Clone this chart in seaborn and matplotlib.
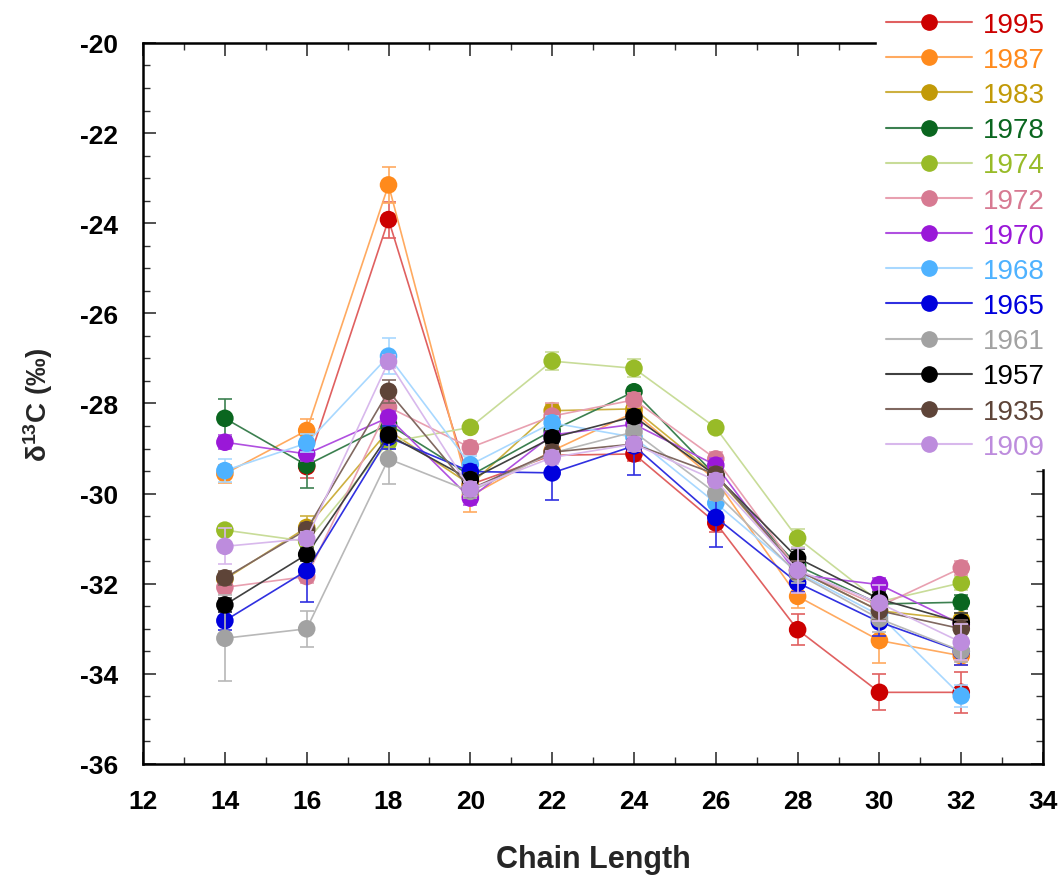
import numpy as np
import pandas as pd
import matplotlib
matplotlib.use("Agg")
import matplotlib.pyplot as plt
from matplotlib.lines import Line2D
from matplotlib.ticker import MultipleLocator
import seaborn as sns

chain_length = [14, 16, 18, 20, 22, 24, 26, 28, 30, 32]
years = ["1995", "1987", "1983", "1978", "1974", "1972", "1970",
         "1968", "1965", "1961", "1957", "1935", "1909"]
nan = np.nan
d1995 = [nan, -29.40, -23.92, -29.80, -29.15, -29.12, -30.65, -33.02, -34.41, -34.41]
d1987 = [-29.56, -28.60, -23.15, -30.05, -29.05, -28.20, -29.70, -32.28, -33.26, -33.60]
d1983 = [-31.90, -30.75, -28.60, -29.80, -28.16, -28.12, -29.60, -31.70, -32.60, -32.80]
d1978 = [-28.33, -29.37, -28.46, -29.60, -28.60, -27.74, -29.60, -31.60, -32.45, -32.41]
d1974 = [-30.81, -31.06, -28.86, -28.53, -27.06, -27.22, -28.54, -30.99, -32.40, -31.98]
d1972 = [-32.08, -31.84, -28.08, -28.98, -28.28, -27.92, -29.23, -31.70, -32.50, -31.65]
d1970 = [-28.86, -29.12, -28.31, -30.10, -28.70, -28.46, -29.37, -31.80, -32.02, -32.90]
d1968 = [-29.49, -28.88, -26.95, -29.36, -28.43, -28.75, -30.21, -31.75, -32.70, -34.49]
d1965 = [-32.82, -31.71, -28.75, -29.51, -29.54, -28.94, -30.53, -31.98, -32.85, -33.50]
d1961 = [-33.21, -33.00, -29.23, -29.95, -29.10, -28.63, -29.99, -31.78, -32.78, -33.49]
d1957 = [-32.47, -31.35, -28.70, -29.69, -28.76, -28.29, -29.60, -31.43, -32.34, -32.86]
d1935 = [-31.87, -30.80, -27.73, -29.90, -29.08, -28.90, -29.57, -31.70, -32.60, -33.00]
d1909 = [-31.17, -31.00, -27.07, -29.90, -29.20, -28.90, -29.71, -31.70, -32.43, -33.30]

e1995 = [0.0, 0.25, 0.40, 0.15, 0.15, 0.15, 0.20, 0.35, 0.40, 0.45]
e1987 = [0.20, 0.25, 0.40, 0.35, 0.15, 0.15, 0.20, 0.25, 0.50, 0.20]
e1983 = [0.15, 0.25, 0.15, 0.15, 0.15, 0.15, 0.15, 0.20, 0.20, 0.15]
e1978 = [0.42, 0.50, 0.15, 0.15, 0.15, 0.10, 0.15, 0.20, 0.20, 0.15]
e1974 = [0.10, 0.15, 0.15, 0.10, 0.20, 0.20, 0.10, 0.20, 0.20, 0.15]
e1972 = [0.15, 0.15, 0.20, 0.15, 0.30, 0.15, 0.15, 0.25, 0.25, 0.15]
e1970 = [0.15, 0.15, 0.15, 0.15, 0.15, 0.15, 0.15, 0.20, 0.15, 0.15]
e1968 = [0.25, 0.20, 0.40, 0.20, 0.15, 0.15, 0.20, 0.20, 0.20, 0.25]
e1965 = [0.20, 0.70, 0.25, 0.15, 0.60, 0.65, 0.65, 0.20, 0.30, 0.30]
e1961 = [0.95, 0.40, 0.55, 0.15, 0.15, 0.15, 0.15, 0.20, 0.30, 0.25]
e1957 = [0.15, 0.15, 0.15, 0.15, 0.15, 0.15, 0.15, 0.20, 0.15, 0.20]
e1935 = [0.15, 0.15, 0.25, 0.15, 0.15, 0.15, 0.15, 0.20, 0.20, 0.20]
e1909 = [0.40, 0.15, 0.15, 0.15, 0.15, 0.15, 0.15, 0.50, 0.40, 0.40]

colors = ["#CC0000", "#FF8A1C", "#C29A08", "#0A661F", "#98BB28", "#D77A92",
          "#9A18D8", "#4EB2FF", "#0000DD", "#A2A2A2", "#000000", "#5E4438", "#BD8CDD"]
line_colors = ["#E06060", "#FFAA60", "#CDB040", "#3C8050", "#C8DC98", "#E8A0B0",
               "#B050E0", "#A8D8FF", "#3030E0", "#B8B8B8", "#404040", "#806860", "#D8B8EC"]

values = [d1995, d1987, d1983, d1978, d1974, d1972, d1970, d1968, d1965, d1961, d1957, d1935, d1909]
errors = [e1995, e1987, e1983, e1978, e1974, e1972, e1970, e1968, e1965, e1961, e1957, e1935, e1909]

rows = []
for y, v, e in zip(years, values, errors):
    for x, val, err in zip(chain_length, v, e):
        rows.append({"year": y, "chain": x, "d13C": val, "err": err})
df = pd.DataFrame(rows)

sns.set_theme(style="ticks")
plt.rcParams["font.family"] = ["Liberation Sans", "DejaVu Sans"]
plt.rcParams["axes.unicode_minus"] = False
plt.rcParams["mathtext.fontset"] = "custom"
plt.rcParams["mathtext.bf"] = "Liberation Sans:bold"
plt.rcParams["mathtext.rm"] = "Liberation Sans"
plt.rcParams["mathtext.default"] = "bf"

fig = plt.figure(figsize=(10.62, 8.79), dpi=100)
ax = fig.add_axes([0.1347, 0.1297, 0.8475, 0.8203])

for i, y in enumerate(years):
    sub = df[(df["year"] == y)].dropna(subset=["d13C"])
    z = 2 + i * 0.1
    sns.lineplot(data=sub, x="chain", y="d13C", ax=ax, color=line_colors[i],
                 lw=1.2, estimator=None, sort=False, legend=False, zorder=z)
    ax.errorbar(sub["chain"], sub["d13C"], yerr=sub["err"], fmt="none",
                ecolor=line_colors[i], elinewidth=1.2, capsize=5, capthick=1.2, zorder=z)
    sns.scatterplot(data=sub, x="chain", y="d13C", ax=ax, color=colors[i], s=160,
                    edgecolor="none", legend=False, zorder=z + 0.05)

ax.set_xlim(12, 34)
ax.set_ylim(-36, -20)
ax.xaxis.set_major_locator(MultipleLocator(2))
ax.xaxis.set_minor_locator(MultipleLocator(1))
ax.yaxis.set_major_locator(MultipleLocator(2))
ax.yaxis.set_minor_locator(MultipleLocator(0.5))
ax.tick_params(which="both", direction="in", top=True, right=True, colors="#333333",
               labelcolor="black")
ax.tick_params(which="major", length=9, width=1.2, labelsize=19)
ax.tick_params(axis="y", which="major", pad=18)
ax.tick_params(axis="x", which="major", pad=18)
ax.tick_params(which="minor", length=5, width=1.0)
for lab in ax.get_xticklabels() + ax.get_yticklabels():
    lab.set_fontweight("bold")
for sp in ax.spines.values():
    sp.set_linewidth(1.8)
    sp.set_color("black")

ax.set_xlabel("Chain Length", fontsize=22, fontweight="bold", labelpad=22)
ax.set_ylabel(r"$\delta^{13}$C (‰)", fontsize=20, fontweight="bold", labelpad=18)

handles = [Line2D([0], [0], color=line_colors[i], lw=1.5, marker="o",
                  markersize=11, markerfacecolor=colors[i], markeredgecolor=colors[i])
           for i in range(len(years))]
leg = fig.legend(handles, years, loc="upper left", bbox_to_anchor=(0.826, 0.995),
                 fontsize=20, frameon=True, handlelength=3.1, handletextpad=0.4,
                 labelspacing=0.33, borderpad=0.3, borderaxespad=0.0)
leg.get_frame().set_facecolor("white")
leg.get_frame().set_edgecolor("white")
leg.get_frame().set_alpha(1.0)
leg.set_zorder(10)
for t, c in zip(leg.get_texts(), colors):
    t.set_color(c)

fig.savefig("out.png", dpi=100, facecolor="white")
